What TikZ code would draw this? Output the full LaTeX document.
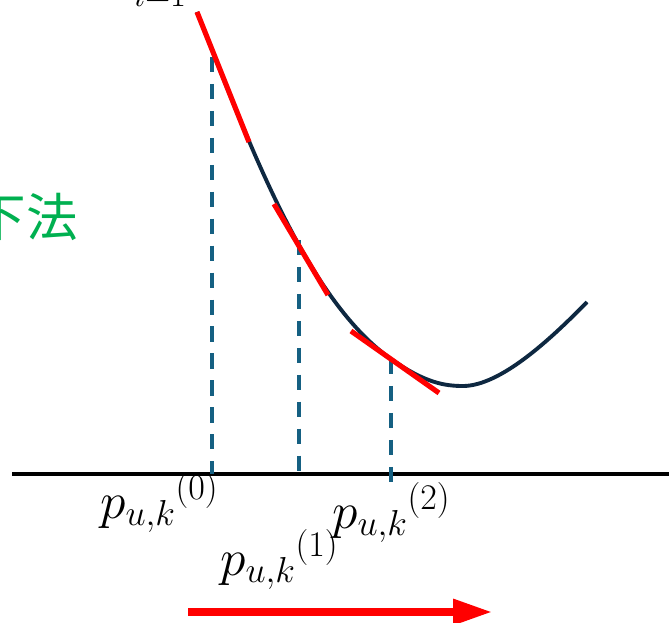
\RequirePackage{fix-cm}
\documentclass[tikz,border=0pt]{standalone}
\usepackage{fontspec}
\newfontfamily\jpfont{Noto Sans CJK JP}
\usetikzlibrary{arrows.meta}
\definecolor{curvenavy}{HTML}{0E2841}
\definecolor{dashblue}{HTML}{156082}
\definecolor{labelgreen}{HTML}{00B050}
\tikzset{
  tangent/.style={red,line width=4.4pt},
  guide/.style={dashblue,line width=2.8pt,dash pattern=on 13pt off 10pt},
  plabel/.style={anchor=base west,inner sep=0pt,font=\fontsize{44}{50}\selectfont}
}
\begin{document}
\begin{tikzpicture}[x=0.03cm,y=-0.03cm]
\useasboundingbox (0,0) rectangle (669,623);
\clip (0,0) rectangle (669,623);
% axis and curve
\coordinate (axL) at (12,474); \coordinate (axR) at (669,474);
\draw[line width=3pt] (axL) -- (axR);
\coordinate (s) at (197,12); \coordinate (m) at (463,386); \coordinate (e) at (587,302);
\draw[curvenavy,line width=3.3pt] (s) .. controls (244,129) and (303,297) .. (391,359)
  .. controls (425,383) and (445,386) .. (m) .. controls (500,386) and (550,340) .. (e);
% iterates
\coordinate (c0) at (212,57); \coordinate (c1) at (299,240); \coordinate (c2) at (391,359);
\foreach \c/\y in {c0/474,c1/474,c2/484} \draw[guide] (\c) -- (\c |- 0,\y);
\draw[tangent] (s) -- (249,142);
\draw[tangent] (274,204) -- (328,295);
\draw[tangent] (351,331) -- (439,393);
% labels
\node[plabel] (p0) at (100,518) {${p_{u,k}}^{(0)}$};
\node[plabel] (p2) at (332,528) {${p_{u,k}}^{(2)}$};
\node[plabel] (p1) at (220,575) {${p_{u,k}}^{(1)}$};
\node[anchor=base,inner sep=0pt,font=\fontsize{42}{46}\selectfont] (ilab) at (160,7) {$\scriptstyle i=1$};
\node[anchor=east,inner sep=0pt,text=labelgreen,font=\fontsize{44}{48}\selectfont\jpfont] (meth) at (78,217) {下法};
\coordinate (a0) at (188,612); \coordinate (a1) at (493,612);
\draw[red,line width=7.5pt,-{Triangle[length=1.2cm,width=0.72cm]}] (a0) -- (a1);
\end{tikzpicture}
\end{document}
